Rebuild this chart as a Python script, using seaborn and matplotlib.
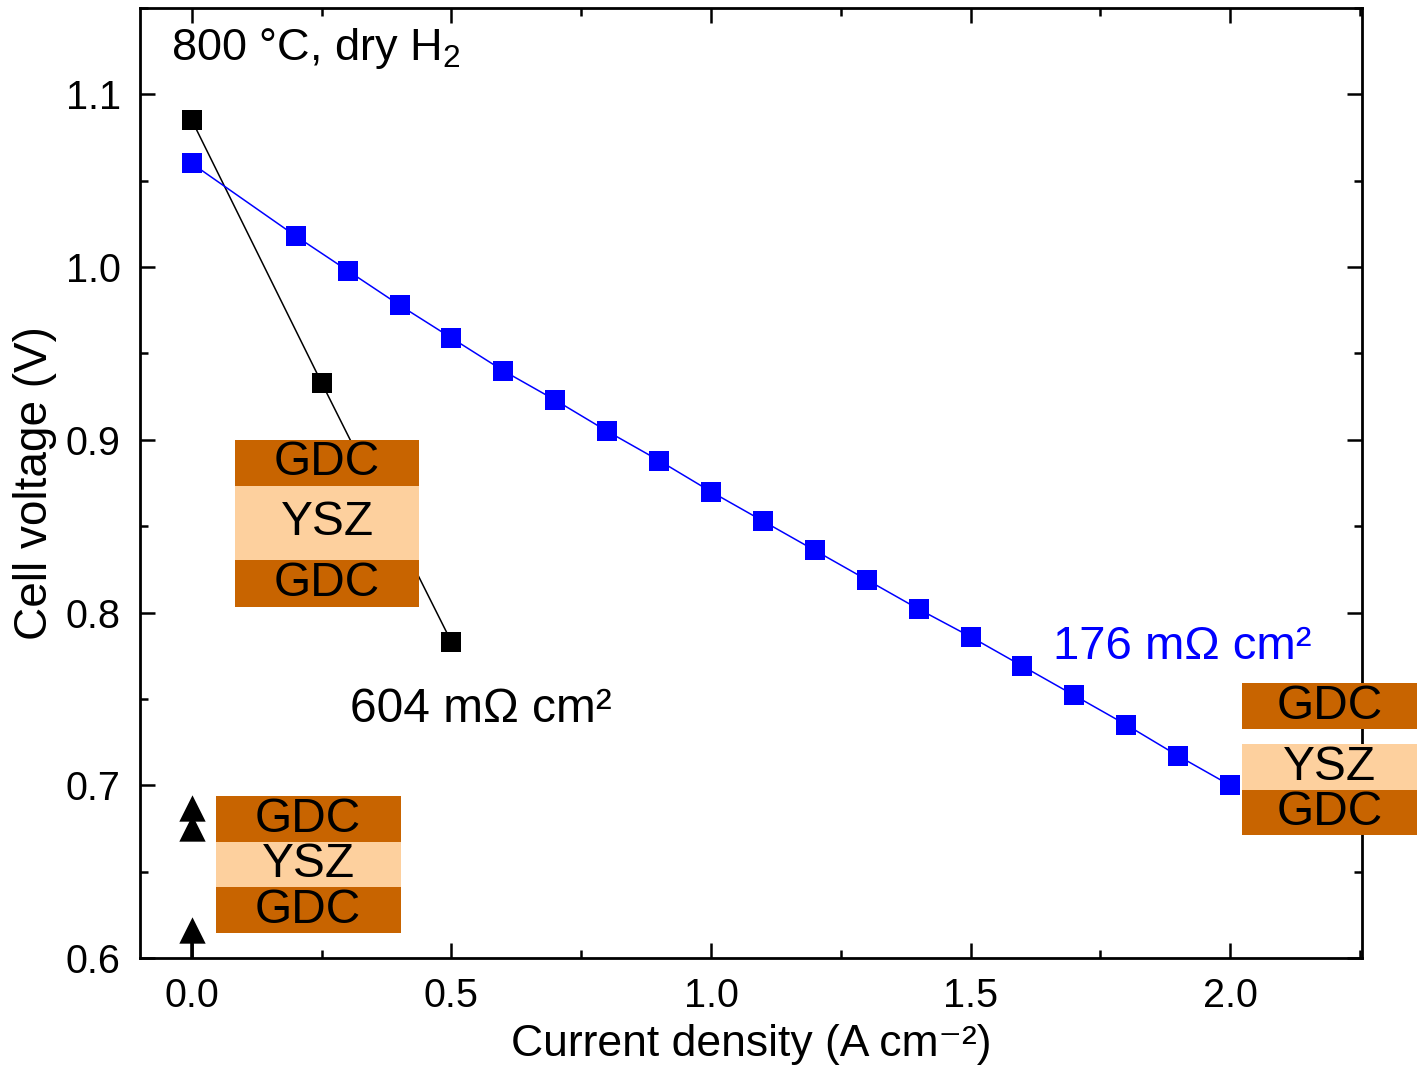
import matplotlib
matplotlib.use("Agg")
import matplotlib.pyplot as plt
import seaborn as sns
import pandas as pd
from matplotlib.patches import Rectangle
from matplotlib.ticker import MultipleLocator

# ---- data ----
black_j = [0.0, 0.25, 0.5]
black_v = [1.085, 0.933, 0.783]
blue_j = [0.0, 0.2, 0.3, 0.4, 0.5, 0.6, 0.7, 0.8, 0.9, 1.0,
          1.1, 1.2, 1.3, 1.4, 1.5, 1.6, 1.7, 1.8, 1.9, 2.0]
blue_v = [1.060, 1.018, 0.998, 0.978, 0.959, 0.940, 0.923, 0.905, 0.888, 0.870,
          0.853, 0.836, 0.819, 0.802, 0.786, 0.769, 0.752, 0.735, 0.717, 0.700]
tri_j = [0.0, 0.0, 0.0]
tri_v = [0.687, 0.675, 0.616]
x_ticks = [0.0, 0.5, 1.0, 1.5, 2.0]
y_ticks = [0.6, 0.7, 0.8, 0.9, 1.0, 1.1]
label_black = "604 mΩ cm²"
label_blue = "176 mΩ cm²"
cond_text = "800 °C, dry H$_2$"

GDC = "#C86400"
YSZ = "#FDD09E"

sns.set_theme(style="ticks")
plt.rcParams['font.family'] = ['Liberation Sans', 'DejaVu Sans']
plt.rcParams['mathtext.fontset'] = 'custom'
plt.rcParams['mathtext.rm'] = 'Liberation Sans'
plt.rcParams['mathtext.it'] = 'Liberation Sans:italic'

fig = plt.figure(figsize=(14.18, 10.71), dpi=100)
ax = fig.add_axes([0.0987, 0.1055, 0.9605 - 0.0987, 0.9925 - 0.1055])

df_b = pd.DataFrame({"j": black_j, "v": black_v})
df_u = pd.DataFrame({"j": blue_j, "v": blue_v})
df_t = pd.DataFrame({"j": tri_j, "v": tri_v})

sns.lineplot(data=df_b, x="j", y="v", ax=ax, color="black", lw=1.1,
             marker="s", markersize=14, markeredgewidth=0, zorder=3)
sns.lineplot(data=df_u, x="j", y="v", ax=ax, color="#0000FF", lw=1.1,
             marker="s", markersize=14, markeredgewidth=0, zorder=3)
# stem for lowest triangle
ax.plot([tri_j[2], tri_j[2]], [0.598, tri_v[2]], color="black", lw=2.6,
        zorder=4, solid_capstyle="butt")
sns.scatterplot(data=df_t, x="j", y="v", ax=ax, color="black", marker="^",
                s=360, linewidth=0, zorder=4)

ax.set_xlim(-0.1, 2.254)
ax.set_ylim(0.6, 1.15)
ax.set_xticks(x_ticks)
ax.set_yticks(y_ticks)
ax.set_xticklabels([f"{t:.1f}" for t in x_ticks])
ax.set_yticklabels([f"{t:.1f}" for t in y_ticks])
ax.xaxis.set_minor_locator(MultipleLocator(0.25))
ax.yaxis.set_minor_locator(MultipleLocator(0.05))
ax.tick_params(which="both", direction="in", top=True, right=True, width=1.8,
               colors="black", labelsize=28.5)
ax.tick_params(axis="x", pad=14)
ax.tick_params(axis="y", pad=14)
ax.tick_params(which="major", length=11)
ax.tick_params(which="minor", length=6)
for s in ax.spines.values():
    s.set_linewidth(2)
    s.set_color("black")

ax.set_xlabel("Current density (A cm⁻²)", fontsize=32, labelpad=6, color="black")
ax.set_ylabel("Cell voltage (V)", fontsize=33, labelpad=6, color="black")

# texts
ax.text(-0.04, 1.1266, cond_text, fontsize=32.5, ha="left", va="center", color="black")
ax.text(0.305, 0.744, label_black, fontsize=34.5, ha="left", va="center", color="black")
ax.text(1.658, 0.780, label_blue, fontsize=34, ha="left", va="center", color="#0000FF")

def stack(x0, x1, layers, clip=True):
    for (y0, y1, col, txt) in layers:
        r = Rectangle((x0, y0), x1 - x0, y1 - y0, facecolor=col, edgecolor="none",
                      zorder=5, clip_on=clip)
        ax.add_patch(r)
        ax.text((x0 + x1) / 2, (y0 + y1) / 2, txt, fontsize=34.5, ha="center",
                va="center", color="black", zorder=6, clip_on=False)

stack(0.083, 0.438, [(0.8735, 0.900, GDC, "GDC"),
                     (0.8306, 0.8735, YSZ, "YSZ"),
                     (0.8035, 0.8306, GDC, "GDC")])
stack(0.046, 0.402, [(0.667, 0.6936, GDC, "GDC"),
                     (0.641, 0.667, YSZ, "YSZ"),
                     (0.6145, 0.641, GDC, "GDC")])
stack(2.023, 2.36, [(0.7324, 0.759, GDC, "GDC"),
                    (0.697, 0.7237, YSZ, "YSZ"),
                    (0.671, 0.697, GDC, "GDC")], clip=False)

fig.savefig("out.png", dpi=100)
